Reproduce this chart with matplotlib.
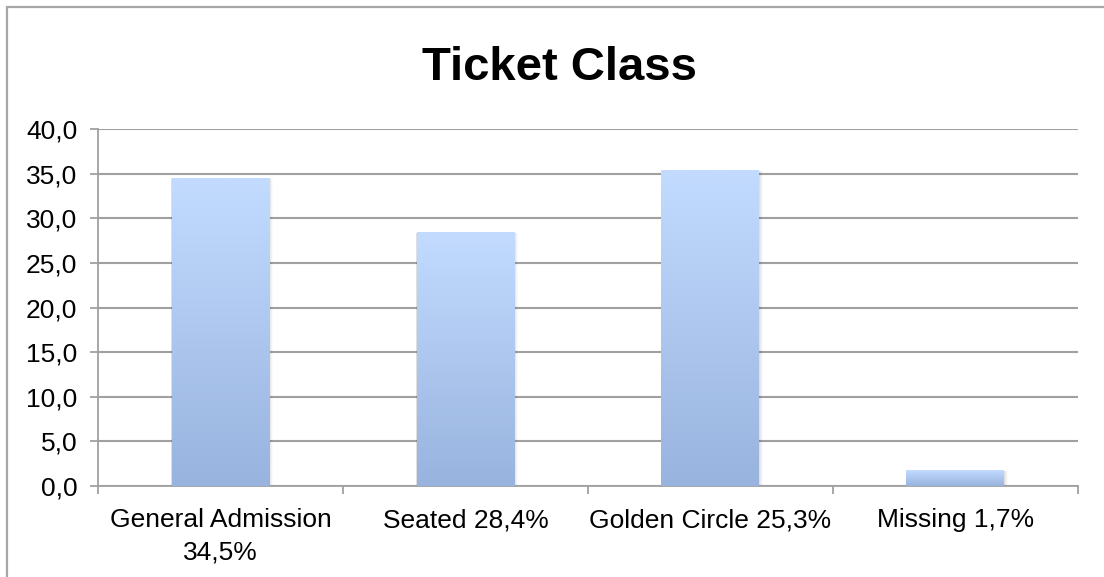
import numpy as np
import matplotlib.pyplot as plt
from matplotlib.patches import Rectangle
from matplotlib.colors import LinearSegmentedColormap

categories = ['General Admission\n34,5%', 'Seated 28,4%', 'Golden Circle 25,3%', 'Missing 1,7%']
values = [34.5, 28.4, 35.3, 1.7]
yticks = [0, 5, 10, 15, 20, 25, 30, 35, 40]
ytick_labels = ['0,0', '5,0', '10,0', '15,0', '20,0', '25,0', '30,0', '35,0', '40,0']

plt.rcParams['font.family'] = ['Liberation Sans', 'DejaVu Sans']

fig = plt.figure(figsize=(11.04, 5.77), dpi=100)
ax = fig.add_axes([0.0888, 0.1577, 0.8876, 0.6187])

# outer chart frame (only top and left visible)
fig.patches.append(Rectangle((7/1104, -0.1), 1.2, 1 - 7/577 + 0.1, transform=fig.transFigure,
                             fill=False, edgecolor='#a6a6a6', linewidth=1.6))

grad = LinearSegmentedColormap.from_list('bar', ['#98b3de', '#c2dbff'])
width = 0.4
x = np.arange(len(values))
bars = ax.bar(x, values, width=width, color='none', zorder=3)
g = np.linspace(0, 1, 256).reshape(-1, 1)
for b in bars:
    x0, w, h = b.get_x(), b.get_width(), b.get_height()
    # soft shadow
    for i, a in enumerate([0.04, 0.035, 0.03, 0.02]):
        d = 0.003 * (i + 1)
        ax.add_patch(Rectangle((x0 - d * 0.3, -0.05), w + d * 1.4, h + 0.05 - d * 5,
                               facecolor='black', alpha=a, edgecolor='none', zorder=2))
    ax.imshow(g, cmap=grad, origin='lower', extent=[x0, x0 + w, 0, h],
              aspect='auto', zorder=3, interpolation='bilinear')

ax.set_xlim(-0.5, len(values) - 0.5)
ax.set_ylim(0, 40)
ax.set_yticks(yticks)
ax.set_yticklabels(ytick_labels, fontsize=19)
ax.set_xticks(x)
ax.set_xticklabels(categories, fontsize=19)
ax.set_xticks(np.arange(-0.5, len(values)), minor=True)
ax.tick_params(axis='x', which='major', length=0, pad=16)
ax.tick_params(axis='x', which='minor', length=6, color='#a0a0a0', width=1.3)
ax.tick_params(axis='y', length=6, color='#a0a0a0', width=1.3, pad=9)
for lbl in ax.get_xticklabels():
    lbl.set_linespacing(1.45)

ax.grid(axis='y', color='#a0a0a0', linewidth=1.5, zorder=1)
ax.set_axisbelow(True)
for s in ['top', 'right']:
    ax.spines[s].set_visible(False)
for s in ['left', 'bottom']:
    ax.spines[s].set_color('#a0a0a0')
    ax.spines[s].set_linewidth(1.3)

fig.text(0.507, 0.882, 'Ticket Class', fontsize=34, fontweight='bold', ha='center', va='center')

fig.savefig('out.png', dpi=100)
